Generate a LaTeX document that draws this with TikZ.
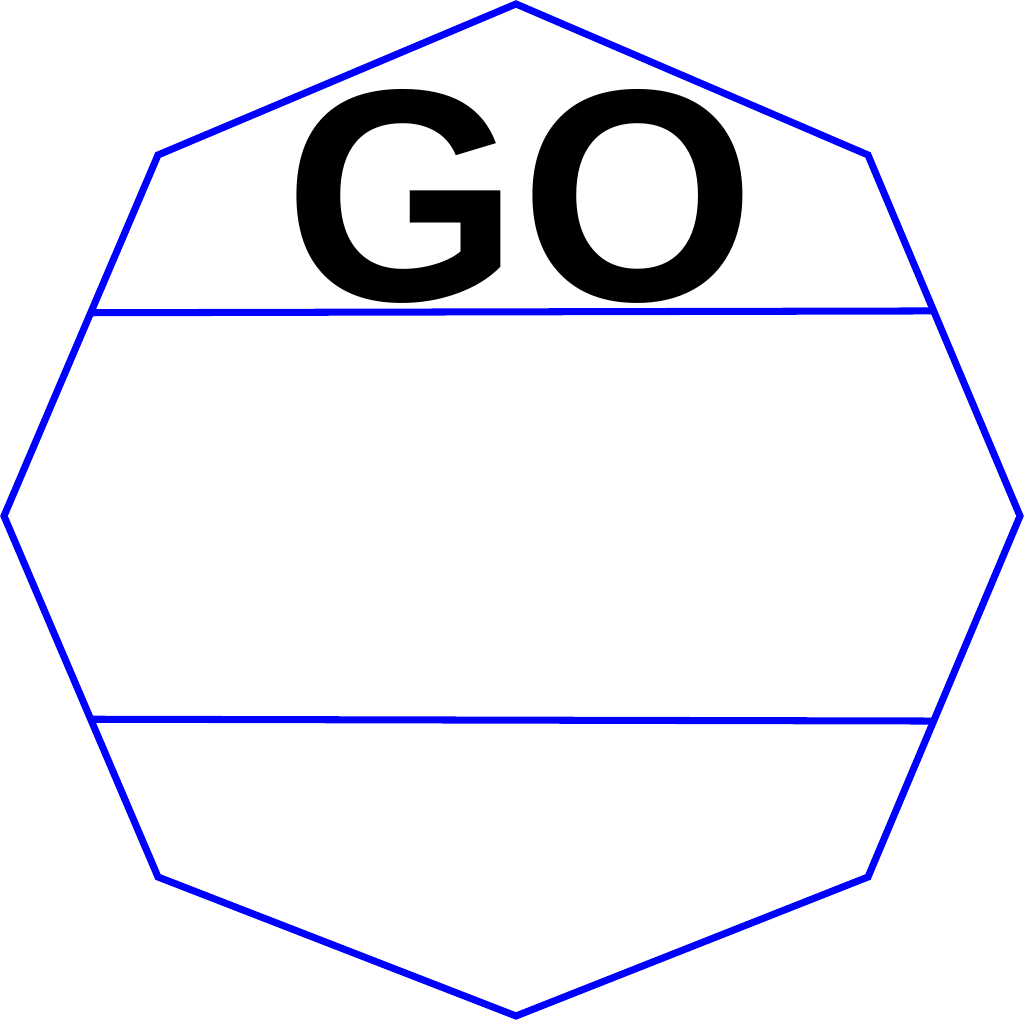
\documentclass[tikz,border=0pt]{standalone}
\usepackage{fontspec}
\setmainfont{Liberation Sans}
\usetikzlibrary{calc}
\begin{document}
\begin{tikzpicture}[
	edge/.style={ draw=blue, line width=2pt, line join=miter },
	sign/.style={ font=\bfseries\fontsize{86}{92}\selectfont, inner sep=0pt, anchor=base }
]

\useasboundingbox (0,0) rectangle (10.24,-10.20);

% eight corners, clockwise from the top
\coordinate (n) at (5.16,-0.04);
\coordinate (ne) at (8.68,-1.55);
\coordinate (e) at (10.20,-5.16);
\coordinate (se) at (8.68,-8.77);
\coordinate (s) at (5.16,-10.16);
\coordinate (sw) at (1.58,-8.77);
\coordinate (w) at (0.04,-5.16);
\coordinate (nw) at (1.58,-1.55);
\draw[edge] (n) -- (ne) -- (e) -- (se) -- (s) -- (sw) -- (w) -- (nw) -- cycle;

% cross bars
\coordinate (tl) at ($(nw)!0.437!(w)$);
\coordinate (tr) at ($(ne)!0.432!(e)$);
\coordinate (bl) at ($(w)!0.563!(sw)$);
\coordinate (br) at ($(e)!0.568!(se)$);
\draw[edge] (tl) -- (tr);
\draw[edge] (bl) -- (br);

\node at (5.20,-3.01) (go) [sign] {GO};

\end{tikzpicture}
\end{document}
